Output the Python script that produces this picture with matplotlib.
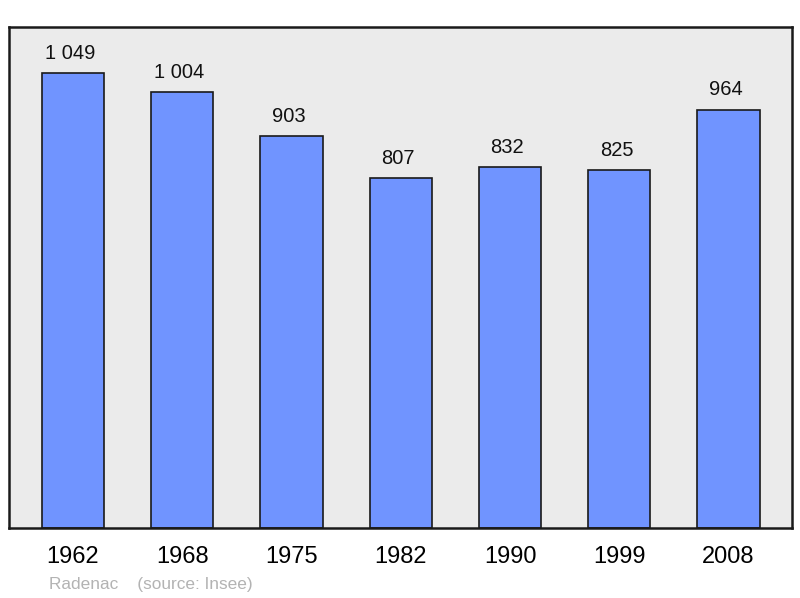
import matplotlib.pyplot as plt

plt.rcParams['font.family'] = ['Liberation Sans', 'DejaVu Sans']

years = ['1962', '1968', '1975', '1982', '1990', '1999', '2008']
population = [1049, 1004, 903, 807, 832, 825, 964]
labels = ['1 049', '1 004', '903', '807', '832', '825', '964']

fig = plt.figure(figsize=(8, 5.98), dpi=100)
ax = fig.add_axes([9 / 800, 70 / 598, 783 / 800, 501 / 598])
ax.set_facecolor('#ebebeb')

x = range(len(years))
ax.bar(x, population, width=0.57, color='#7094ff', edgecolor='#1a1a1a', linewidth=1.2, zorder=2)

for i, v in enumerate(population):
    ax.annotate(labels[i], (i, v), xytext=(-2, 7.5), textcoords='offset points',
                ha='center', va='bottom', fontsize=14.5, color='#111111')

ax.set_xlim(-0.585, 6.58)
ax.set_ylim(0, 1155)
ax.set_xticks(list(x))
ax.set_xticklabels(years, fontsize=17)
ax.tick_params(axis='x', length=0, pad=13)
ax.set_yticks([])
for s in ax.spines.values():
    s.set_linewidth(1.8)
    s.set_color('#1a1a1a')

fig.text(49 / 800, 1 - 584 / 598, 'Radenac    (source: Insee)', fontsize=12.4,
         color='#b3b3b3', va='center', ha='left')

fig.savefig('out.png', dpi=100)
